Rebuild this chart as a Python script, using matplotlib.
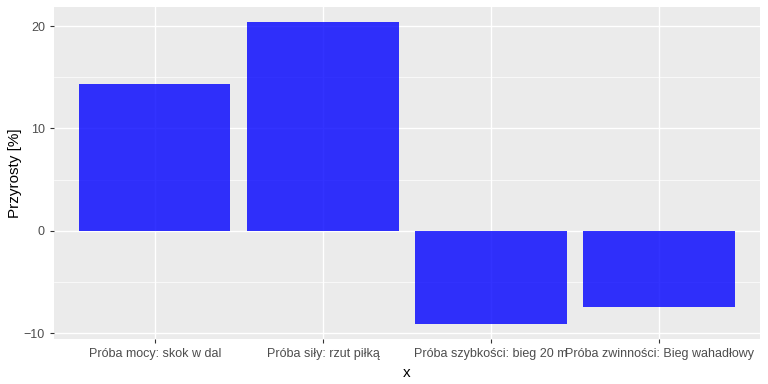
import matplotlib
matplotlib.use("Agg")
import matplotlib.pyplot as plt
import numpy as np

categories = ["Próba mocy: skok w dal", "Próba siły: rzut piłką",
              "Próba szybkości: bieg 20 m", "Próba zwinności: Bieg wahadłowy"]
values = [14.34, 20.39, -9.1, -7.48]
yticks = [-10, 0, 10, 20]

plt.rcParams['font.family'] = ['Liberation Sans', 'DejaVu Sans']

fig = plt.figure(figsize=(7.68, 3.84), dpi=100)
ax = fig.add_axes([54/768, 45/384, (760-54)/768, (339-7)/384])
ax.set_facecolor('#EBEBEB')
x = np.arange(len(categories))
ax.bar(x, values, width=0.9, color='#0000FF', alpha=0.8, zorder=3, linewidth=0)

rng = max(values) - min(values)
ax.set_ylim(min(values) - 0.05*rng, max(values) + 0.05*rng)
ax.set_xlim(-0.6, len(categories) - 1 + 0.6)
ax.set_yticks(yticks)
ax.set_yticks([-5, 5, 15], minor=True)
ax.set_xticks(x)
ax.set_xticklabels(categories)
ax.grid(which='major', color='white', linewidth=1.0, zorder=0)
ax.grid(which='minor', axis='y', color='white', linewidth=0.5, zorder=0)
ax.set_axisbelow(True)
for s in ax.spines.values():
    s.set_visible(False)
ax.tick_params(axis='both', which='major', colors='#333333', labelcolor='#4D4D4D',
               labelsize=9, length=3, width=0.8)
ax.tick_params(axis='both', which='minor', length=0)
ax.set_xlabel('x', fontsize=11, color='black', labelpad=4)
ax.set_ylabel('Przyrosty [%]', fontsize=11, color='black', labelpad=1)
fig.savefig('out.png', dpi=100)
